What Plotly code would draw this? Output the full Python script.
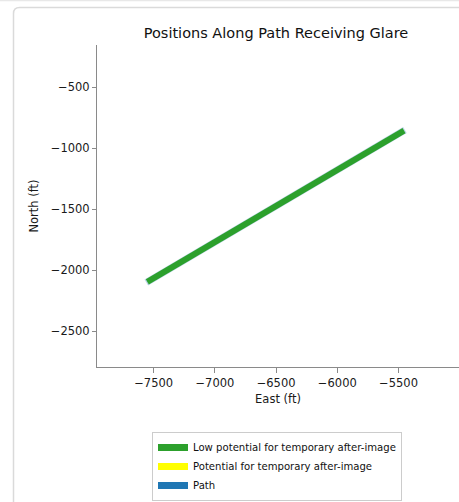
import plotly.graph_objects as go

# ---- data ----
path_east = [-7560, -5448]
path_north = [-2100, -850]
glare_low_east = [-7552, -5455]
glare_low_north = [-2095, -855]
x_ticks = [-7500, -7000, -6500, -6000, -5500]
y_ticks = [-500, -1000, -1500, -2000, -2500]
legend_names = ["Low potential for temporary after-image",
                "Potential for temporary after-image",
                "Path"]
legend_colors = ["#2ca02c", "#ffff00", "#1f77b4"]

W, H = 459, 502
ML, MR, MT, MB = 97, 0, 45, 135
PW, PH = W - ML - MR, H - MT - MB

def px(x):
    return (x - ML) / PW

def py(y):
    return (H - MB - y) / PH

FONT = "DejaVu Sans"

fig = go.Figure()
# faint path underneath
fig.add_trace(go.Scatter(x=path_east, y=path_north, mode="lines",
                         line=dict(color="#1f77b4", width=7), opacity=0.3,
                         showlegend=False, hoverinfo="skip"))
# glare positions
fig.add_trace(go.Scatter(x=glare_low_east, y=glare_low_north, mode="lines",
                         line=dict(color="#2ca02c", width=6),
                         showlegend=False))
for name, col in zip(legend_names, legend_colors):
    fig.add_trace(go.Scatter(x=[None], y=[None], mode="lines", name=name,
                             line=dict(color=col, width=7)))

r = 6
x0, y0 = 13.5, 7.5
card = (f"M {px(x0)},{py(H + 20)} L {px(x0)},{py(y0 + r)} "
        f"Q {px(x0)},{py(y0)} {px(x0 + r)},{py(y0)} L {px(W + 20)},{py(y0)}")

fig.update_layout(
    width=W, height=H,
    margin=dict(l=ML, r=MR, t=MT, b=MB),
    paper_bgcolor="white", plot_bgcolor="white",
    font=dict(family=FONT, size=11.5, color="#1a1a1a"),
    title=dict(text="Positions Along Path Receiving Glare",
               x=px(276), xanchor="center", xref="paper",
               y=1 - 33 / H, yanchor="middle", yref="container",
               font=dict(family=FONT, size=14.5, color="#111")),
    xaxis=dict(range=[-7963, -5006], tickvals=x_ticks, showgrid=False,
               zeroline=False, showline=True, linecolor="#8a8a8a", linewidth=1,
               ticks="outside", ticklen=5, tickcolor="#8a8a8a",
               tickfont=dict(size=11.5), title=dict(text="East (ft)", standoff=6,
                                                    font=dict(size=11.5))),
    yaxis=dict(range=[-2792, -153], tickvals=y_ticks, showgrid=False,
               zeroline=False, showline=True, linecolor="#8a8a8a", linewidth=1,
               ticks="outside", ticklen=4, tickcolor="#8a8a8a",
               tickfont=dict(size=11.5), title=dict(text="North (ft)", standoff=9,
                                                    font=dict(size=11.5))),
    legend=dict(x=px(152), xanchor="left", y=py(432), yanchor="top",
                bordercolor="#cccccc", borderwidth=1, bgcolor="white",
                font=dict(family=FONT, size=10.1, color="#111"),
                tracegroupgap=0),
    showlegend=True,
    shapes=[
        dict(type="path", path=card, xref="paper", yref="paper",
             line=dict(color="#dadada", width=1.5), layer="below"),
        dict(type="line", xref="paper", yref="paper", x0=px(0), x1=px(W),
             y0=py(0.5), y1=py(0.5), line=dict(color="#e8e8e8", width=1.5),
             layer="below"),
    ],
)

fig.write_html("out.html",
               config={"displayModeBar": False},
               post_script="document.body.style.margin='0';"
                           "document.body.style.overflow='hidden';")
